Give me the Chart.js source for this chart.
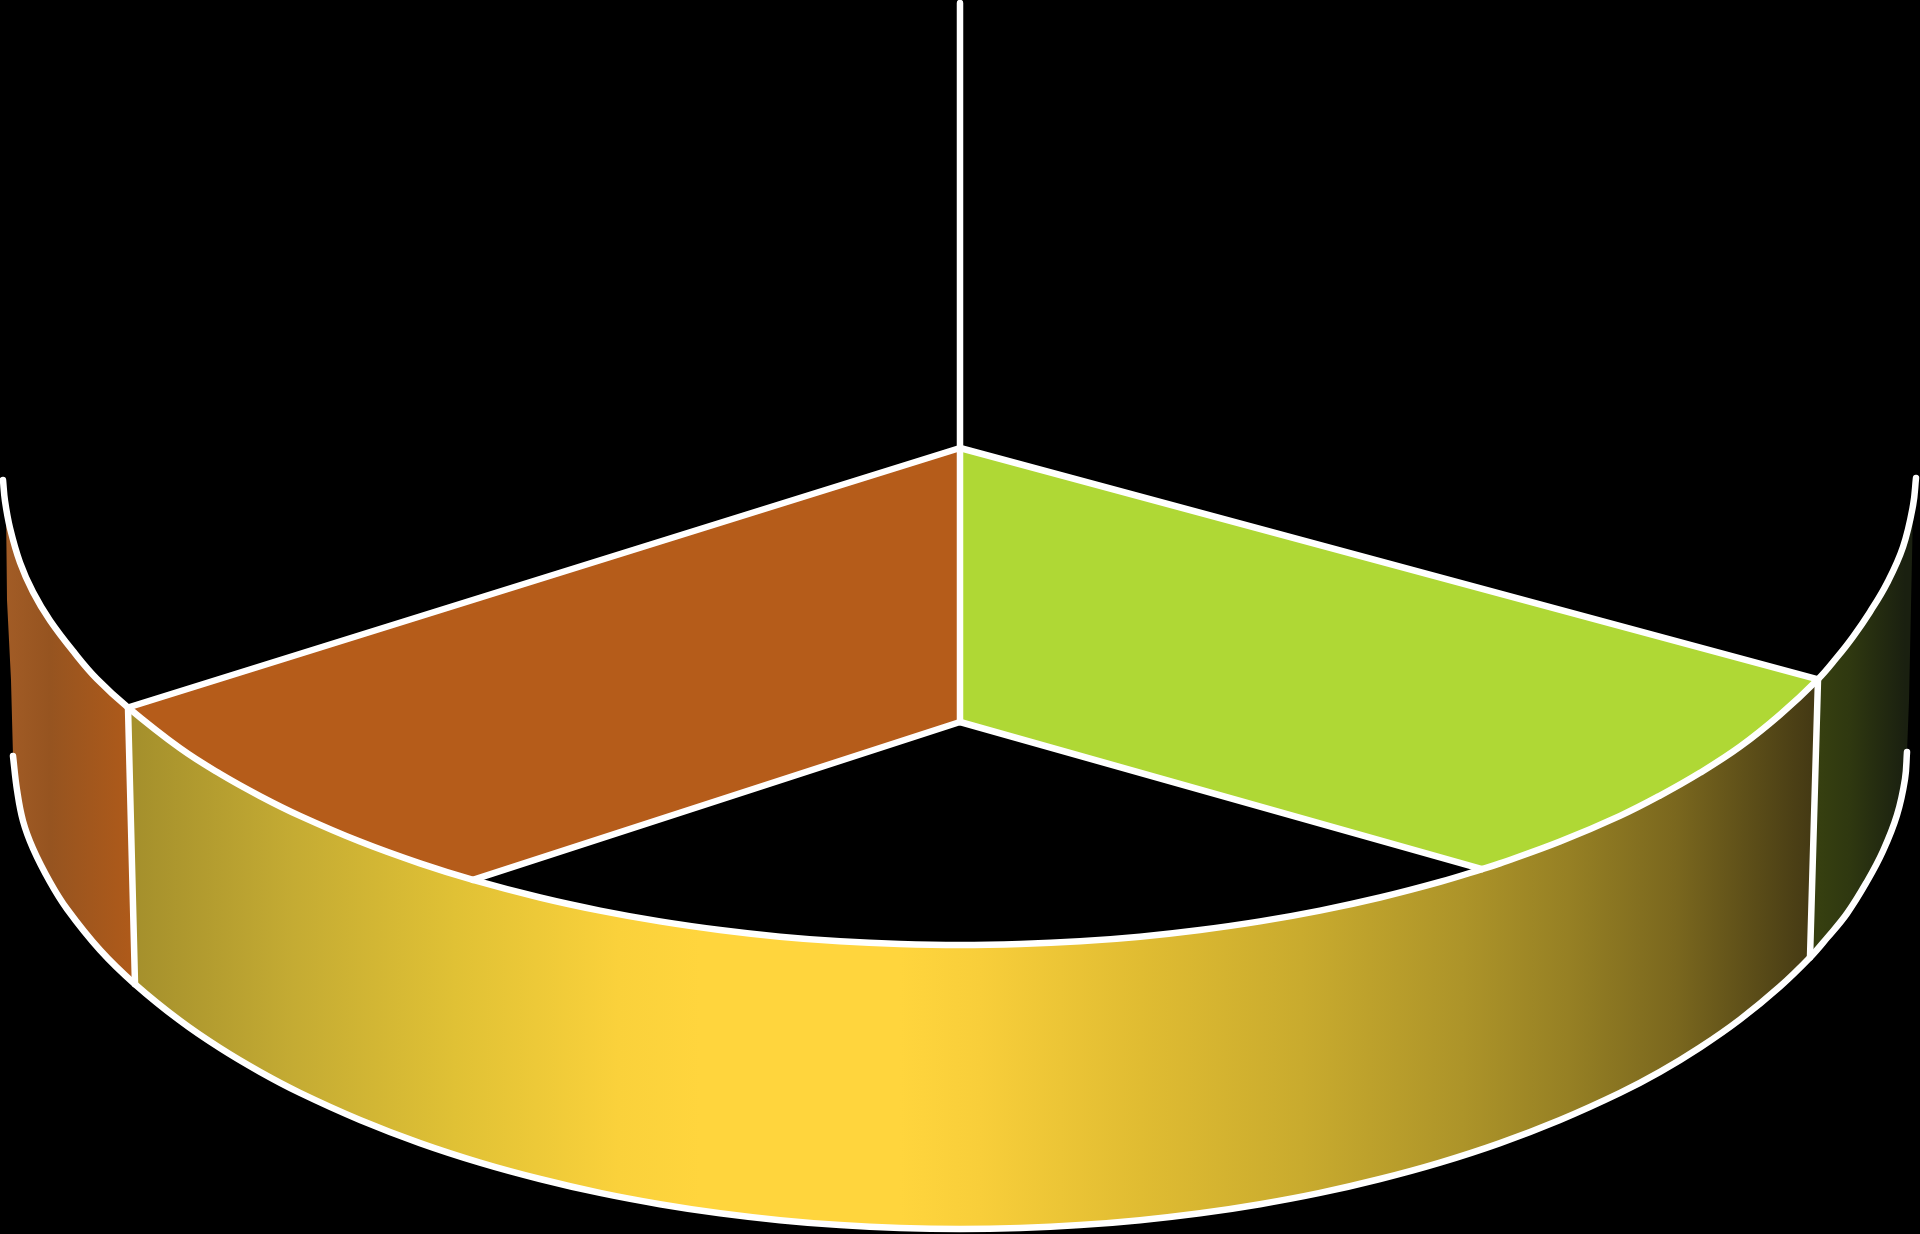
<!DOCTYPE html>
<html>
<head>
<meta charset="utf-8">
<style>
  html, body { margin: 0; padding: 0; background: #000; }
  canvas { display: block; }
</style>
<script src="https://cdn.jsdelivr.net/npm/chart.js@4/dist/chart.umd.min.js"></script>
</head>
<body>
<canvas id="pie3d" width="1920" height="1234"></canvas>
<script>
// Values, in picture units
const mastX = [960, 960];
const mastY = [3, 722];

const orangeEdgeX = [960, 128];
const orangeEdgeY = [448, 707.5];
const greenEdgeX = [960, 1818];
const greenEdgeY = [448, 679.3];
const orangeSpokeX = [960, 473];
const orangeSpokeY = [722, 879.9];
const greenSpokeX = [960, 1482];
const greenSpokeY = [722, 869.2];

// upper rim, left to right
const backLeftX = [3, 5, 10, 20, 33, 50, 75, 97, 128];
const backLeftY = [480, 501, 528, 562.5, 592, 620.5, 653.5, 679, 707.5];
const orangeRimX = [128, 180, 220, 260, 300, 360, 420, 473];
const orangeRimY = [707.5, 748.2, 773.8, 796.1, 815.9, 841.6, 863.4, 879.9];
const openRimX = [473, 540, 600, 660, 720, 780, 840, 900, 960, 1020, 1080, 1140, 1200, 1260, 1320, 1380, 1440, 1482];
const openRimY = [879.9, 897.5, 910.6, 921.4, 930, 936.7, 941.3, 944, 945, 944, 941.3, 936.7, 930, 921.4, 910.6, 897.5, 881.9, 869.2];
const greenRimX = [1482, 1500, 1560, 1620, 1660, 1700, 1740, 1780, 1818];
const greenRimY = [869.2, 863.4, 841.6, 815.9, 795.6, 772.8, 746.7, 714.8, 679.3];
const backRightX = [1818, 1837, 1853, 1870, 1887, 1903, 1913, 1916];
const backRightY = [679.3, 657.3, 636.8, 611.9, 583.3, 547, 505.7, 478];

// lower rim, left to right
const lowerLeftX = [13, 17, 23, 33, 50, 67, 100, 135];
const lowerLeftY = [756, 790, 821, 848.5, 882, 909, 950, 984.2];
const lowerFrontX = [135, 180, 220, 260, 300, 360, 420, 480, 540, 600, 660, 720, 780, 840, 900, 960, 1020, 1080, 1140, 1200, 1260, 1320, 1380, 1440, 1500, 1560, 1620, 1660, 1700, 1740, 1780, 1810];
const lowerFrontY = [984.2, 1020.7, 1048.1, 1071.9, 1092.9, 1120, 1143.1, 1162.6, 1179, 1192.9, 1204.2, 1213.3, 1220.2, 1225.1, 1228, 1229, 1228, 1225.1, 1220.2, 1213.3, 1204.2, 1192.9, 1179, 1162.6, 1143.1, 1120, 1092.9, 1071.9, 1047.5, 1019.5, 986.5, 957.5];
const lowerRightX = [1810, 1827, 1847, 1867, 1883, 1897, 1905, 1907];
const lowerRightY = [957.5, 938, 913.5, 881.5, 851, 815, 779, 752];

// wall dividers and the outer edges of the side walls
const leftSeamX = [128, 135];
const leftSeamY = [707.5, 984.2];
const rightSeamX = [1818, 1810];
const rightSeamY = [679.3, 957.5];
const leftSideX = [13, 11, 7, 6];
const leftSideY = [756, 680, 600, 505];
const rightSideX = [1913, 1909, 1907];
const rightSideY = [510, 700, 752];

const orangeColor = "#B55C1A";
const greenColor = "#AFD835";
const lineColor = "#FFFFFF";

// Join x and y lists into scatter points
function pts(xs, ys) {
  return xs.map((x, i) => ({ x: x, y: ys[i] }));
}

function rev(list) {
  return list.slice().reverse();
}

// Glue runs that share their end point, dropping the repeats
function chain(...runs) {
  return runs.reduce((all, run, i) => all.concat(i ? run.slice(1) : run), []);
}

const canvas = document.getElementById("pie3d");
const ctx = canvas.getContext("2d");

function shade(stops) {
  const g = ctx.createLinearGradient(0, 0, 1920, 0);
  stops.forEach(([x, c]) => g.addColorStop(x / 1920, c));
  return g;
}

const leftWallFill = shade([[5, "#A25C26"], [50, "#965420"], [130, "#AE5A1A"]]);
const frontWallFill = shade([
  [137, "#A5902C"], [292, "#C4AB33"], [455, "#E0C135"], [618, "#FAD13B"],
  [700, "#FFD53D"], [900, "#FFD53D"], [980, "#F8CE3A"], [1141, "#E0BC32"],
  [1301, "#C9AB2E"], [1462, "#AD9429"], [1569, "#968024"], [1676, "#7A671E"],
  [1757, "#5A4C18"], [1810, "#453A14"],
]);
const rightWallFill = shade([[1820, "#363F10"], [1850, "#2F3810"], [1905, "#1A2010"]]);

function outline(points, tension) {
  return {
    data: points,
    showLine: true,
    tension: tension || 0,
    borderColor: lineColor,
    borderWidth: 6.5,
    borderCapStyle: "round",
    borderJoinStyle: "round",
    pointRadius: 0,
    fill: false,
    clip: false,
  };
}

function face(points, color) {
  return {
    data: points,
    showLine: true,
    borderWidth: 0,
    borderColor: "rgba(0,0,0,0)",
    backgroundColor: color,
    pointRadius: 0,
    fill: "shape",
    clip: false,
  };
}

const orangeFace = [].concat(
  pts(orangeEdgeX, orangeEdgeY),
  pts(orangeRimX, orangeRimY),
  rev(pts(orangeSpokeX, orangeSpokeY))
);
const greenFace = [].concat(
  pts(greenSpokeX, greenSpokeY),
  pts(greenRimX, greenRimY),
  rev(pts(greenEdgeX, greenEdgeY))
);
const frontWall = [].concat(
  pts(orangeRimX, orangeRimY),
  pts(openRimX, openRimY),
  pts(greenRimX, greenRimY),
  rev(pts(lowerFrontX, lowerFrontY))
);
const leftWall = [].concat(
  pts(backLeftX.slice(1), backLeftY.slice(1)),
  rev(pts(lowerLeftX, lowerLeftY)),
  pts(leftSideX, leftSideY)
);
const rightWall = [].concat(
  pts(backRightX.slice(0, 7), backRightY.slice(0, 7)),
  pts(rightSideX, rightSideY),
  rev(pts(lowerRightX, lowerRightY))
);

const upperRim = chain(
  pts(backLeftX, backLeftY),
  pts(orangeRimX, orangeRimY),
  pts(openRimX, openRimY),
  pts(greenRimX, greenRimY),
  pts(backRightX, backRightY)
);
const lowerRim = chain(
  pts(lowerLeftX, lowerLeftY),
  pts(lowerFrontX, lowerFrontY),
  pts(lowerRightX, lowerRightY)
);

// Datasets listed first are painted on top
new Chart(ctx, {
  type: "scatter",
  data: {
    datasets: [
      outline(pts(mastX, mastY)),
      outline(pts(orangeEdgeX, orangeEdgeY)),
      outline(pts(greenEdgeX, greenEdgeY)),
      outline(pts(orangeSpokeX, orangeSpokeY)),
      outline(pts(greenSpokeX, greenSpokeY)),
      outline(upperRim, 0.4),
      outline(lowerRim, 0.4),
      outline(pts(leftSeamX, leftSeamY)),
      outline(pts(rightSeamX, rightSeamY)),
      face(orangeFace, orangeColor),
      face(greenFace, greenColor),
      face(frontWall, frontWallFill),
      face(leftWall, leftWallFill),
      face(rightWall, rightWallFill),
    ],
  },
  options: {
    responsive: false,
    animation: false,
    devicePixelRatio: 1,
    layout: { padding: 0 },
    plugins: { legend: { display: false }, tooltip: { enabled: false } },
    scales: {
      x: { type: "linear", min: 0, max: 1920, display: false },
      y: { type: "linear", min: 0, max: 1234, reverse: true, display: false },
    },
  },
});
</script>
</body>
</html>
